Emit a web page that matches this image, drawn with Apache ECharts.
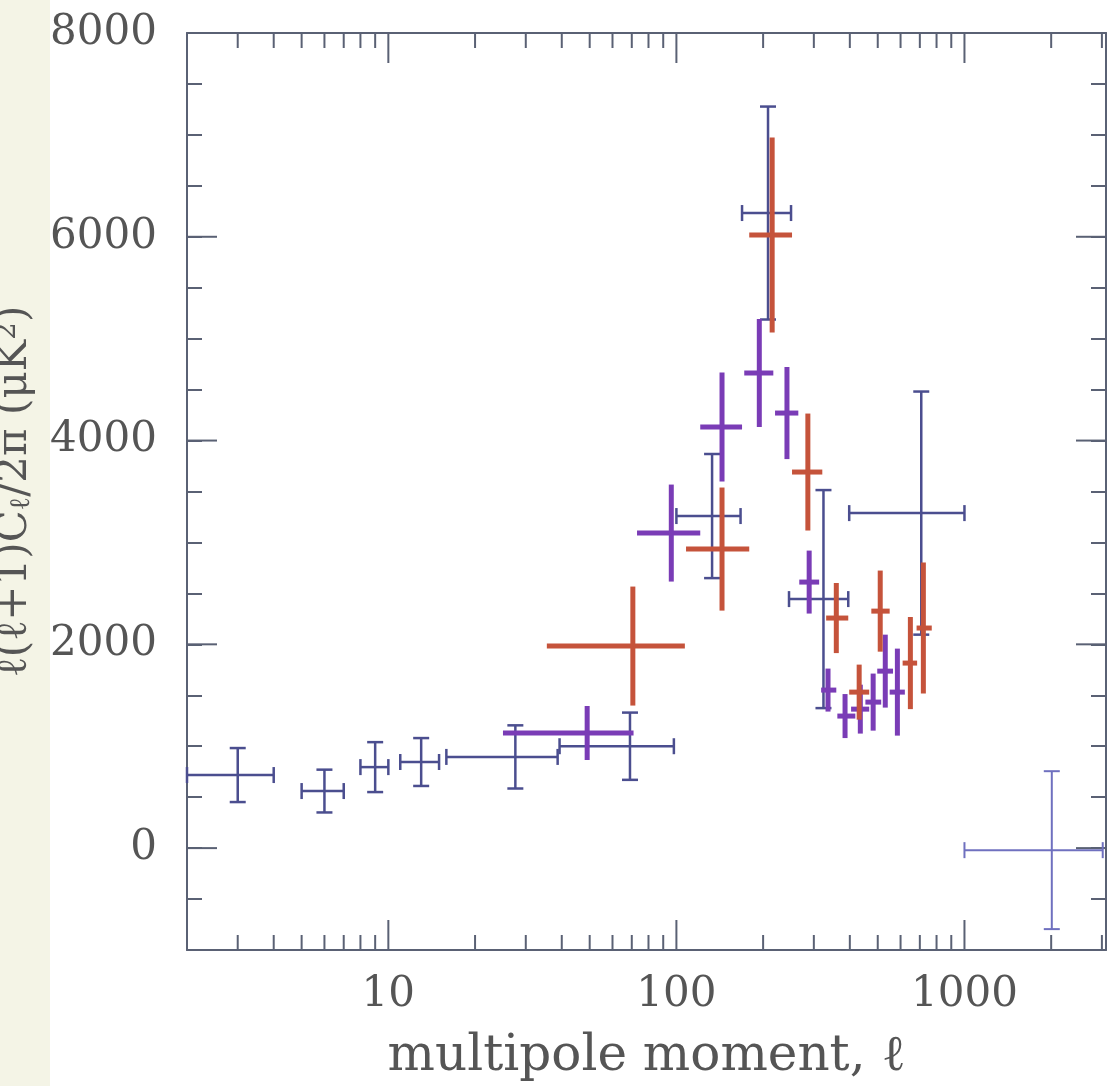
<!DOCTYPE html>
<html lang="en">
<head>
<meta charset="UTF-8">
<title>CMB power spectrum</title>
<style>
  html, body { margin: 0; padding: 0; background: #fff; }
</style>
</head>
<body>
<div id="main" style="width: 1110px; height: 1086px;"></div>

<script src="https://cdn.jsdelivr.net/npm/echarts@6/dist/echarts.min.js"></script>
<script>
// multipole l, bin edges, power (uK^2) and 1-sigma error
var blueL   = [3, 6, 9, 13, 27.6, 69, 133, 208, 324, 708];
var blueLo  = [2, 5, 8, 11, 15.9, 39.3, 100, 169, 246, 398];
var blueHi  = [4, 7, 10, 15, 38.7, 98, 167, 250, 395, 1000];
var blueV   = [717, 560, 795, 845, 895, 1000, 3259, 6233, 2444, 3288];
var blueErr = [265, 210, 245, 235, 310, 330, 609, 1045, 1070, 1193];

var farL   = [2010];
var farLo  = [1000];
var farHi  = [3020];
var farV   = [-20];
var farErr = [775];

var purpleL   = [49, 96, 144, 194, 242, 289, 336, 385, 435, 482, 531, 585];
var purpleLo  = [25, 73, 121, 172, 220, 267, 318, 362, 404, 453, 498, 550];
var purpleHi  = [71, 121, 169, 217, 265, 313, 359, 418, 467, 514, 565, 621];
var purpleV   = [1130, 3092, 4133, 4663, 4270, 2611, 1551, 1296, 1364, 1433, 1737, 1531];
var purpleErr = [265, 476, 535, 530, 452, 309, 211, 216, 240, 280, 358, 427];

var redL   = [70.6, 144, 215, 286, 359, 431, 510, 649, 720];
var redLo  = [35.5, 108, 179, 252, 331, 398, 475, 610, 682];
var redHi  = [107, 179, 252, 321, 395, 467, 550, 685, 770];
var redV   = [1983, 2935, 6017, 3691, 2258, 1531, 2326, 1816, 2160];
var redErr = [584, 604, 957, 574, 344, 270, 398, 452, 643];

var xMin = 2, xMax = 3100;
var yMin = -1000, yMax = 8000;
var xLabels = [10, 100, 1000];
var xMinorTicks = [3, 4, 5, 6, 7, 8, 9, 20, 30, 40, 50, 60, 70, 80, 90,
                   200, 300, 400, 500, 600, 700, 800, 900, 2000, 3000];
var yMajorTicks = [0, 2000, 4000, 6000, 8000];

var axisColor = '#5a6174';
var textColor = '#555';
var font = 'DejaVu Serif';

function rows(l, lo, hi, v, err) {
    return l.map(function (d, i) { return [d, lo[i], hi[i], v[i], err[i]]; });
}

function errorBars(color, width, cap) {
    return function (params, api) {
        var l = api.value(0), v = api.value(3), e = api.value(4);
        var c = api.coord([l, v]);
        var left = api.coord([api.value(1), v]);
        var right = api.coord([api.value(2), v]);
        var top = api.coord([l, v + e]);
        var bot = api.coord([l, v - e]);
        var style = { stroke: color, lineWidth: width, fill: null };
        var kids = [
            { type: 'line', shape: { x1: left[0], y1: c[1], x2: right[0], y2: c[1] }, style: style },
            { type: 'line', shape: { x1: c[0], y1: top[1], x2: c[0], y2: bot[1] }, style: style }
        ];
        if (cap) {
            kids.push(
                { type: 'line', shape: { x1: c[0] - cap, y1: top[1], x2: c[0] + cap, y2: top[1] }, style: style },
                { type: 'line', shape: { x1: c[0] - cap, y1: bot[1], x2: c[0] + cap, y2: bot[1] }, style: style },
                { type: 'line', shape: { x1: left[0], y1: c[1] - cap, x2: left[0], y2: c[1] + cap }, style: style },
                { type: 'line', shape: { x1: right[0], y1: c[1] - cap, x2: right[0], y2: c[1] + cap }, style: style }
            );
        }
        return { type: 'group', children: kids };
    };
}

// inward ticks on the bottom and top edges of the frame (x values)
function xTicks(len) {
    return function (params, api) {
        var b = api.coord([api.value(0), yMin]);
        var t = api.coord([api.value(0), yMax]);
        var style = { stroke: axisColor, lineWidth: 2 };
        return {
            type: 'group',
            children: [
                { type: 'line', shape: { x1: b[0], y1: b[1], x2: b[0], y2: b[1] - len }, style: style },
                { type: 'line', shape: { x1: t[0], y1: t[1], x2: t[0], y2: t[1] + len }, style: style }
            ]
        };
    };
}

// inward ticks on the left and right edges of the frame (y values)
function yTicks(len) {
    return function (params, api) {
        var l = api.coord([xMin, api.value(1)]);
        var r = api.coord([xMax, api.value(1)]);
        var style = { stroke: axisColor, lineWidth: 2 };
        return {
            type: 'group',
            children: [
                { type: 'line', shape: { x1: l[0], y1: l[1], x2: l[0] + len, y2: l[1] }, style: style },
                { type: 'line', shape: { x1: r[0], y1: r[1], x2: r[0] - len, y2: r[1] }, style: style }
            ]
        };
    };
}

function yAxisDef(pos) {
    return {
        type: 'value',
        position: pos,
        min: yMin,
        max: yMax,
        interval: 500,
        splitLine: { show: false },
        axisLine: { show: true, onZero: false, lineStyle: { color: axisColor, width: 2 } },
        axisTick: { show: true, inside: true, length: 15, lineStyle: { color: axisColor, width: 2 } },
        axisLabel: { show: false }
    };
}

function xAxisDef(pos) {
    return {
        type: 'log',
        logBase: 10,
        min: xMin,
        max: xMax,
        position: pos,
        splitLine: { show: false },
        axisLine: { onZero: false, lineStyle: { color: axisColor, width: 2 } },
        axisTick: { show: false },
        axisLabel: { show: false }
    };
}

var myChart = echarts.init(document.getElementById('main'));

var leftY = yAxisDef('left');
leftY.axisLabel = {
    show: true,
    margin: 30,
    color: textColor,
    fontFamily: font,
    fontSize: 42,
    formatter: function (v) { return v % 2000 === 0 ? String(v) : ''; }
};
leftY.name = '{a|ℓ(ℓ+1)C}{s|ℓ}{a|/2π (μK}{p|2}{a|)}';
leftY.nameLocation = 'middle';
leftY.nameGap = 151;
leftY.nameTextStyle = {
    color: textColor,
    fontFamily: font,
    rich: {
        a: { fontFamily: font, fontSize: 42, color: textColor },
        s: { fontFamily: font, fontSize: 28, color: textColor, verticalAlign: 'bottom' },
        p: { fontFamily: font, fontSize: 28, color: textColor, verticalAlign: 'top' }
    }
};

var bottomX = xAxisDef('bottom');
bottomX.axisLabel = {
    show: true,
    margin: 24,
    color: textColor,
    fontFamily: font,
    fontSize: 42,
    showMinLabel: false,
    showMaxLabel: false,
    formatter: function (v) {
        var r = Math.round(v);
        return xLabels.indexOf(r) >= 0 ? String(r) : '';
    }
};
bottomX.name = 'multipole moment, ℓ';
bottomX.nameLocation = 'middle';
bottomX.nameGap = 82;
bottomX.nameTextStyle = { color: textColor, fontFamily: font, fontSize: 50 };

option = {
    animation: false,
    backgroundColor: '#fff',
    graphic: [{
        type: 'rect', left: 0, top: 0, z: -10,
        shape: { width: 50, height: 1086 },
        style: { fill: '#f4f4e6' }
    }],
    grid: { left: 187, right: 4, top: 33, bottom: 136, outerBoundsMode: 'none' },
    xAxis: [bottomX, xAxisDef('top')],
    yAxis: [leftY, yAxisDef('right')],
    series: [
        {
            type: 'custom', name: 'x minor ticks',
            renderItem: xTicks(15),
            data: xMinorTicks.map(function (v) { return [v, 0]; }),
            silent: true, z: 1
        },
        {
            type: 'custom', name: 'x major ticks',
            renderItem: xTicks(30),
            data: xLabels.map(function (v) { return [v, 0]; }),
            silent: true, z: 1
        },
        {
            type: 'custom', name: 'y major ticks',
            renderItem: yTicks(30),
            data: yMajorTicks.map(function (v) { return [xMin, v]; }),
            silent: true, z: 1
        },
        {
            type: 'custom', name: 'blue',
            renderItem: errorBars('#4b4e8f', 2.5, 8),
            data: rows(blueL, blueLo, blueHi, blueV, blueErr),
            encode: { x: 0, y: 3 }, z: 2
        },
        {
            type: 'custom', name: 'blue far',
            renderItem: errorBars('#6f70bf', 2, 8),
            data: rows(farL, farLo, farHi, farV, farErr),
            encode: { x: 0, y: 3 }, z: 2
        },
        {
            type: 'custom', name: 'purple',
            renderItem: errorBars('#7a3cb6', 5, 0),
            data: rows(purpleL, purpleLo, purpleHi, purpleV, purpleErr),
            encode: { x: 0, y: 3 }, z: 3
        },
        {
            type: 'custom', name: 'red',
            renderItem: errorBars('#c5533b', 5, 0),
            data: rows(redL, redLo, redHi, redV, redErr),
            encode: { x: 0, y: 3 }, z: 4
        }
    ]
};

myChart.setOption(option);
</script>
</body>
</html>
